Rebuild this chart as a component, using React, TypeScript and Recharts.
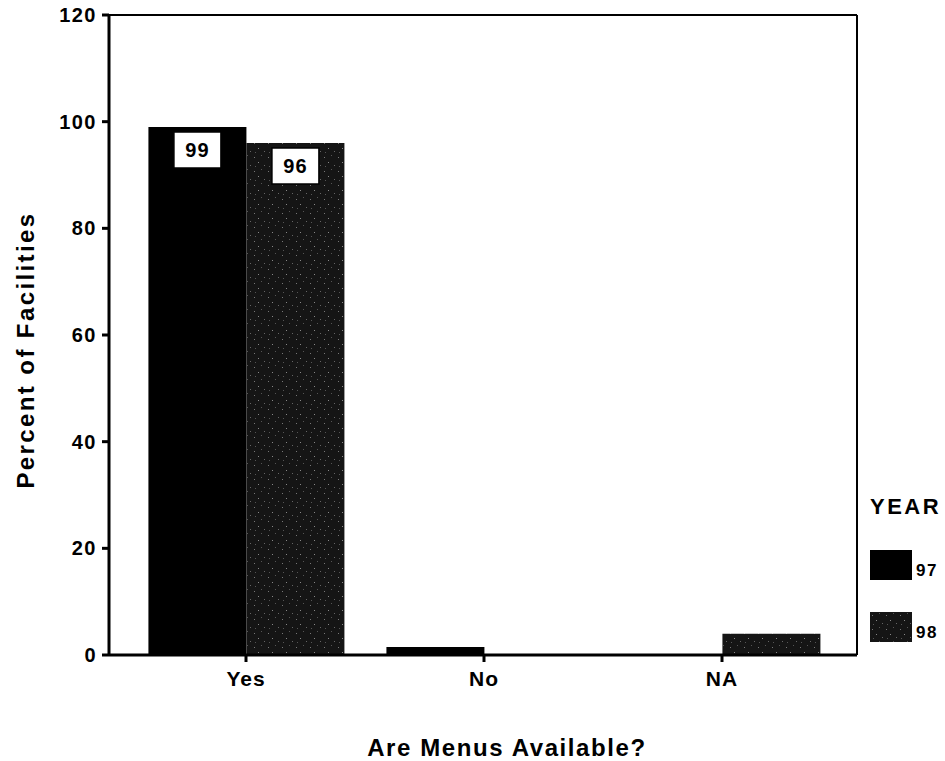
import React from "react";
import {
  BarChart,
  Bar,
  XAxis,
  YAxis,
  LabelList,
} from "recharts";

const categories = ["Yes", "No", "NA"];
const year97 = [99, 1.5, 0];
const year98 = [96, 0, 4];
const yTicks = [0, 20, 40, 60, 80, 100, 120];

const data = categories.map((name, i) => ({
  name,
  y97: year97[i],
  y98: year98[i],
}));

const FONT = "'Liberation Sans', Arial, sans-serif";

// white boxed value label sitting inside the top of tall bars
const BoxLabel = (props: any) => {
  const { x, y, width, value } = props;
  if (value < 50) return null;
  const w = 47;
  const h = 36;
  const bx = x + (width - w) / 2;
  const by = y + 5;
  return (
    <g>
      <rect x={bx} y={by} width={w} height={h} fill="#fff" stroke="#000" strokeWidth={1.5} />
      <text
        x={bx + w / 2}
        y={by + h / 2 + 7}
        textAnchor="middle"
        fontFamily={FONT}
        fontWeight="bold"
        fontSize={20}
        letterSpacing={1}
        fill="#000"
      >
        {value}
      </text>
    </g>
  );
};

const XTitle = (props: any) => {
  const { viewBox } = props;
  const cx = viewBox.x + viewBox.width / 2 + 24;
  const y = viewBox.y + 101;
  return (
    <text x={cx} y={y} textAnchor="middle" fontFamily={FONT} fontWeight="bold" fontSize={24} letterSpacing={1.6} fill="#000">
      Are Menus Available?
    </text>
  );
};

const YTitle = (props: any) => {
  const { viewBox } = props;
  const cy = viewBox.y + viewBox.height / 2 + 15;
  const x = viewBox.x - 74;
  return (
    <text
      transform={`translate(${x}, ${cy}) rotate(-90)`}
      textAnchor="middle"
      fontFamily={FONT}
      fontWeight="bold"
      fontSize={24}
      letterSpacing={2.4}
      fill="#000"
    >
      Percent of Facilities
    </text>
  );
};

const YearLegend = () => (
  <div
    style={{
      position: "absolute",
      left: 870,
      top: 494,
      width: 75,
      fontFamily: FONT,
      fontWeight: "bold",
      color: "#000",
    }}
  >
    <div style={{ fontSize: 22, letterSpacing: 2.5, marginBottom: 30 }}>YEAR</div>
    {[
      { label: "97", fill: "#000" },
      { label: "98", fill: "url(#speckle)" },
    ].map((item) => (
      <div key={item.label} style={{ display: "flex", alignItems: "flex-end", height: 30, marginBottom: 32 }}>
        <svg width={42} height={30}>
          <rect width={42} height={30} fill={item.fill} />
        </svg>
        <span style={{ fontSize: 17, letterSpacing: 1.5, marginLeft: 4, lineHeight: "18px" }}>{item.label}</span>
      </div>
    ))}
  </div>
);

export default function App() {
  return (
    <div style={{ position: "absolute", left: 0, top: 0, width: 945, height: 761, background: "#fff" }}>
      <BarChart
        width={945}
        height={761}
        data={data}
        margin={{ top: 14, right: 87, bottom: 76, left: 108 }}
        barCategoryGap="9%"
        barGap={0}
      >
        <defs>
          <pattern id="speckle" width="14" height="14" patternUnits="userSpaceOnUse">
            <rect width="14" height="14" fill="#151515" />
            <rect x="2" y="3" width="1" height="1" fill="#777" />
            <rect x="9" y="1" width="1" height="1" fill="#555" />
            <rect x="6" y="8" width="1" height="1" fill="#888" />
            <rect x="12" y="11" width="1" height="1" fill="#666" />
            <rect x="3" y="12" width="1" height="1" fill="#555" />
          </pattern>
        </defs>
        <XAxis
          dataKey="name"
          height={30}
          axisLine={{ stroke: "#000", strokeWidth: 3 }}
          tickLine={{ stroke: "#000", strokeWidth: 3 }}
          tickSize={7}
          tick={{ fill: "#000", fontFamily: FONT, fontWeight: "bold", fontSize: 21, letterSpacing: 1 }}
          tickMargin={9}
          padding={{ left: 18, right: 16 }}
          label={{ content: <XTitle /> }}
        />
        <XAxis
          xAxisId="top"
          orientation="top"
          dataKey="name"
          tick={false}
          tickLine={false}
          axisLine={{ stroke: "#000", strokeWidth: 2 }}
          height={1}
        />
        <YAxis
          width={1}
          domain={[0, 120]}
          ticks={yTicks}
          interval={0}
          axisLine={{ stroke: "#000", strokeWidth: 3 }}
          tickLine={{ stroke: "#000", strokeWidth: 3 }}
          tickSize={7}
          tickMargin={5}
          tick={{ fill: "#000", fontFamily: FONT, fontWeight: "bold", fontSize: 20, letterSpacing: 1.5 }}
          label={{ content: <YTitle /> }}
        />
        <YAxis
          yAxisId="right"
          orientation="right"
          domain={[0, 120]}
          tick={false}
          tickLine={false}
          axisLine={{ stroke: "#000", strokeWidth: 2 }}
          width={1}
        />
        <Bar dataKey="y97" name="97" fill="#000" isAnimationActive={false}>
          <LabelList dataKey="y97" content={<BoxLabel />} />
        </Bar>
        <Bar dataKey="y98" name="98" fill="url(#speckle)" isAnimationActive={false}>
          <LabelList dataKey="y98" content={<BoxLabel />} />
        </Bar>
      </BarChart>
      <YearLegend />
    </div>
  );
}
